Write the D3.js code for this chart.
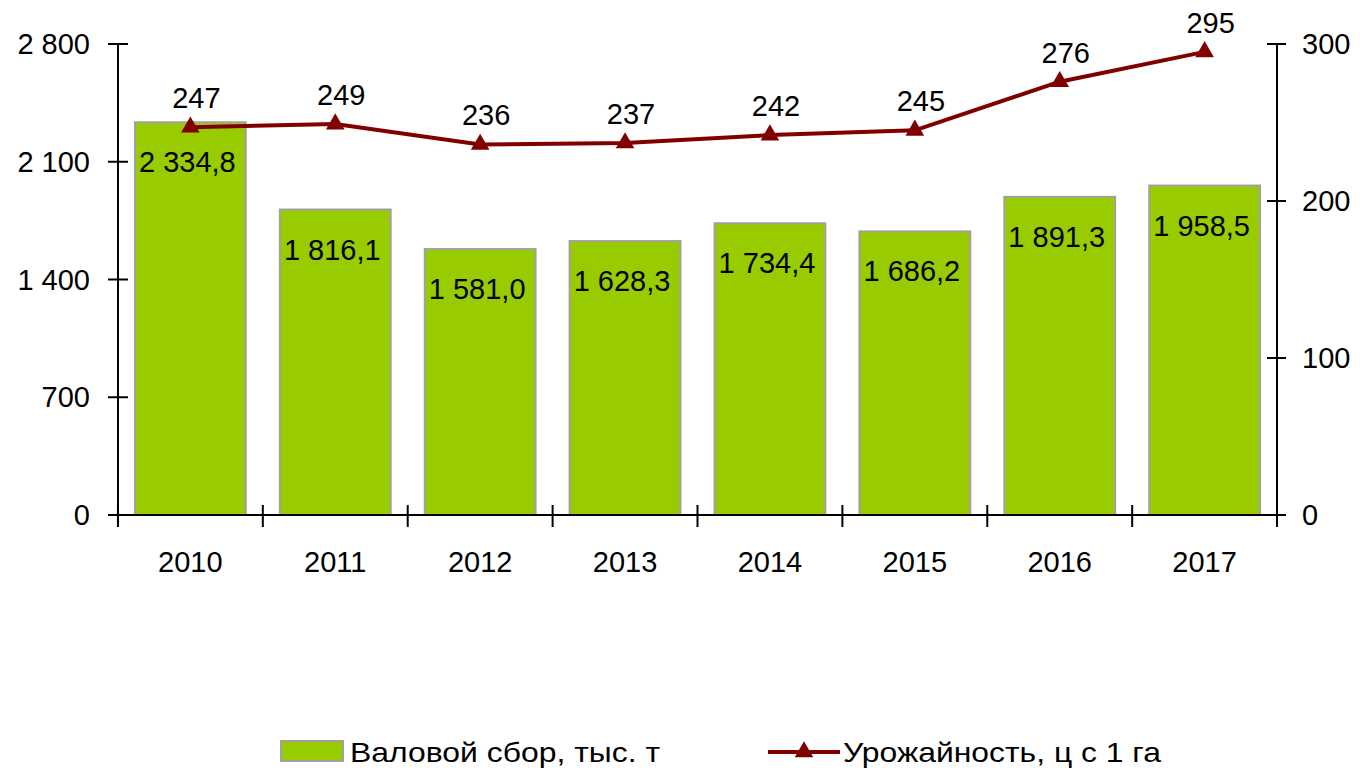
<!DOCTYPE html>
<html>
<head>
<meta charset="utf-8">
<script src="https://cdn.jsdelivr.net/npm/d3@7"></script>
<style>
  body { margin: 0; background: #fff; }
  svg text { font-family: "Liberation Sans", Arial, sans-serif; fill: #000; }
</style>
</head>
<body>
<svg width="1360" height="772"></svg>
<script>
var years = ["2010", "2011", "2012", "2013", "2014", "2015", "2016", "2017"];
var harvest = [2334.8, 1816.1, 1581.0, 1628.3, 1734.4, 1686.2, 1891.3, 1958.5];
var yieldVals = [247, 249, 236, 237, 242, 245, 276, 295];
var leftTicks = [0, 700, 1400, 2100, 2800];
var rightTicks = [0, 100, 200, 300];
var seriesNames = ["Валовой сбор, тыс. т", "Урожайность, ц с 1 га"];

var svg = d3.select("svg");
var plotLeft = 118, plotRight = 1277, plotTop = 44, plotBottom = 515;
var fs = 29;

var x = d3.scaleBand().domain(years).range([plotLeft, plotRight]).paddingInner(0.235).paddingOuter(0.117);
var yL = d3.scaleLinear().domain([0, 2800]).range([plotBottom, plotTop]);
var yR = d3.scaleLinear().domain([0, 300]).range([plotBottom, plotTop]);

// format numbers with space thousands separator and comma decimal
function fmt(v, dec) {
    var s = v.toFixed(dec).split(".");
    var int = s[0].replace(/\B(?=(\d{3})+(?!\d))/g, " ");
    return dec ? int + "," + s[1] : int;
}

// bars
svg.append("g").selectAll("rect")
    .data(harvest)
    .enter()
    .append("rect")
    .attr("x", (d, i) => x(years[i]))
    .attr("y", d => yL(d))
    .attr("width", x.bandwidth())
    .attr("height", d => plotBottom - yL(d))
    .attr("fill", "#99cc00")
    .attr("stroke", "#a0a0a0")
    .attr("stroke-width", 2);

// bar labels
svg.append("g").selectAll("text")
    .data(harvest)
    .enter()
    .append("text")
    .attr("x", (d, i) => x(years[i]) + x.bandwidth() / 2 - 3)
    .attr("y", d => yL(d) + 50)
    .attr("text-anchor", "middle")
    .attr("font-size", fs + "px")
    .text(d => fmt(d, 1));

// left axis
var gl = svg.append("g");
gl.append("line").attr("x1", plotLeft).attr("x2", plotLeft).attr("y1", plotTop).attr("y2", plotBottom + 12)
    .attr("stroke", "#000").attr("stroke-width", 2);
gl.selectAll(".t").data(leftTicks).enter().append("line")
    .attr("x1", plotLeft - 10).attr("x2", plotLeft + 10)
    .attr("y1", d => yL(d)).attr("y2", d => yL(d))
    .attr("stroke", "#000").attr("stroke-width", 2);
gl.selectAll("text").data(leftTicks).enter().append("text")
    .attr("x", 90).attr("y", d => yL(d)).attr("dy", "0.35em")
    .attr("text-anchor", "end").attr("font-size", fs + "px")
    .text(d => fmt(d, 0));

// right axis
var gr = svg.append("g");
gr.append("line").attr("x1", plotRight).attr("x2", plotRight).attr("y1", plotTop).attr("y2", plotBottom + 12)
    .attr("stroke", "#000").attr("stroke-width", 2);
gr.selectAll(".t").data(rightTicks).enter().append("line")
    .attr("x1", plotRight - 10).attr("x2", plotRight + 9)
    .attr("y1", d => yR(d)).attr("y2", d => yR(d))
    .attr("stroke", "#000").attr("stroke-width", 2);
gr.selectAll("text").data(rightTicks).enter().append("text")
    .attr("x", 1302).attr("y", d => yR(d)).attr("dy", "0.35em")
    .attr("text-anchor", "start").attr("font-size", fs + "px")
    .text(d => d);

// x axis
var gx = svg.append("g");
gx.append("line").attr("x1", plotLeft - 10).attr("x2", plotRight + 9).attr("y1", plotBottom).attr("y2", plotBottom)
    .attr("stroke", "#000").attr("stroke-width", 2);
var bounds = years.map(y => x(y) - x.step() * x.paddingInner() / 2).concat([plotRight]);
gx.selectAll(".t").data(bounds).enter().append("line")
    .attr("x1", d => d).attr("x2", d => d)
    .attr("y1", plotBottom - 10).attr("y2", plotBottom + 12)
    .attr("stroke", "#000").attr("stroke-width", 2);
gx.selectAll("text").data(years).enter().append("text")
    .attr("x", d => x(d) + x.bandwidth() / 2)
    .attr("y", 572)
    .attr("text-anchor", "middle").attr("font-size", fs + "px")
    .text(d => d);

// yield line
var lineColor = "#800000";
var line = d3.line()
    .x((d, i) => x(years[i]) + x.bandwidth() / 2)
    .y(d => yR(d));
svg.append("path").datum(yieldVals)
    .attr("d", line)
    .attr("fill", "none")
    .attr("stroke", lineColor)
    .attr("stroke-width", 4);

var tri = d3.symbol().type(d3.symbolTriangle).size(150);
svg.append("g").selectAll("path")
    .data(yieldVals)
    .enter()
    .append("path")
    .attr("d", tri)
    .attr("transform", (d, i) => "translate(" + (x(years[i]) + x.bandwidth() / 2) + "," + yR(d) + ")")
    .attr("fill", lineColor);

svg.append("g").selectAll("text")
    .data(yieldVals)
    .enter()
    .append("text")
    .attr("x", (d, i) => x(years[i]) + x.bandwidth() / 2 + 6)
    .attr("y", d => yR(d) - 19)
    .attr("text-anchor", "middle")
    .attr("font-size", fs + "px")
    .text(d => d);

// legend
var lg = svg.append("g");
lg.append("rect").attr("x", 281).attr("y", 741).attr("width", 62).attr("height", 20)
    .attr("fill", "#99cc00").attr("stroke", "#a0a0a0").attr("stroke-width", 2);
lg.append("text").attr("x", 350).attr("y", 762).attr("font-size", "28px")
    .attr("textLength", 310).attr("lengthAdjust", "spacingAndGlyphs")
    .text(seriesNames[0]);
lg.append("line").attr("x1", 768).attr("x2", 840).attr("y1", 752).attr("y2", 752)
    .attr("stroke", lineColor).attr("stroke-width", 4);
lg.append("path").attr("d", tri).attr("transform", "translate(804,752)").attr("fill", lineColor);
lg.append("text").attr("x", 843).attr("y", 762).attr("font-size", "28px")
    .attr("textLength", 318).attr("lengthAdjust", "spacingAndGlyphs")
    .text(seriesNames[1]);
</script>
</body>
</html>
